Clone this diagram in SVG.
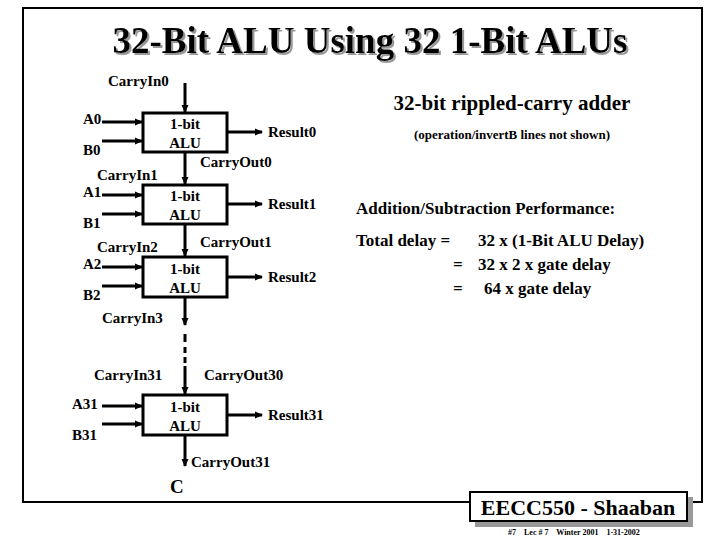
<svg xmlns="http://www.w3.org/2000/svg" width="720" height="540" viewBox="0 0 720 540">
<defs>
<marker id="ah" markerWidth="8" markerHeight="8" refX="7" refY="4" orient="auto" markerUnits="userSpaceOnUse"><path d="M0,0.5 L8,4 L0,7.5 Z" fill="#000"/></marker>
<filter id="sh" x="-5%" y="-20%" width="110%" height="150%"><feDropShadow dx="2" dy="2" stdDeviation="0" flood-color="#999"/></filter>
<style>
.t{font-family:"Liberation Serif","DejaVu Serif",serif;font-weight:bold}
.l{font-size:15px}
.box{fill:#fff;stroke:#000;stroke-width:3}
.w{stroke:#000;stroke-width:3;fill:none;marker-end:url(#ah)}
.b{font-size:17px}
</style>
</defs>
<rect width="720" height="540" fill="#fff"/>
<path d="M470,502 H23 V8 H702 V502 H688" fill="none" stroke="#000" stroke-width="2"/>
<g class="t" fill="#000">
<text x="370" y="53" font-size="37" text-anchor="middle" filter="url(#sh)">32-Bit ALU Using 32 1-Bit ALUs</text>
<g id="connectors">
<path class="w" d="M185,83 V112"/>
<path class="w" d="M185,152 V184"/>
<path class="w" d="M185,224 V256"/>
<path class="w" d="M185,297 V325"/>
<path class="w" d="M185,366 V394"/>
<path class="w" d="M185,435 V466"/>
<path d="M185,334 V342 M185,347 V353 M185,357 V363" stroke="#000" stroke-width="3"/>
<path class="w" d="M102,122 H142"/><path class="w" d="M102,141 H142"/>
<path class="w" d="M102,195 H142"/><path class="w" d="M102,214 H142"/>
<path class="w" d="M102,267 H142"/><path class="w" d="M102,286 H142"/>
<path class="w" d="M102,406 H142"/><path class="w" d="M102,424 H142"/>
<path class="w" d="M227,132 H262"/><path class="w" d="M227,204 H262"/>
<path class="w" d="M227,277 H262"/><path class="w" d="M227,415 H262"/>
</g>
<g id="alu0"><rect class="box" x="143" y="113" width="84" height="39"/><text class="l" x="185" y="129" text-anchor="middle">1-bit</text><text class="l" x="185" y="148" text-anchor="middle">ALU</text></g>
<g id="alu1"><rect class="box" x="143" y="185" width="84" height="39"/><text class="l" x="185" y="201" text-anchor="middle">1-bit</text><text class="l" x="185" y="220" text-anchor="middle">ALU</text></g>
<g id="alu2"><rect class="box" x="143" y="257" width="84" height="40"/><text class="l" x="185" y="274" text-anchor="middle">1-bit</text><text class="l" x="185" y="293" text-anchor="middle">ALU</text></g>
<g id="alu31"><rect class="box" x="143" y="395" width="84" height="40"/><text class="l" x="185" y="412" text-anchor="middle">1-bit</text><text class="l" x="185" y="431" text-anchor="middle">ALU</text></g>
<g id="labels">
<text class="l" x="108" y="86">CarryIn0</text>
<text class="l" x="83" y="124">A0</text><text class="l" x="83" y="155">B0</text>
<text class="l" x="268" y="137">Result0</text>
<text class="l" x="200" y="167">CarryOut0</text>
<text class="l" x="97" y="180">CarryIn1</text>
<text class="l" x="83" y="197">A1</text><text class="l" x="83" y="228">B1</text>
<text class="l" x="268" y="209">Result1</text>
<text class="l" x="200" y="247">CarryOut1</text>
<text class="l" x="97" y="252">CarryIn2</text>
<text class="l" x="83" y="269">A2</text><text class="l" x="83" y="300">B2</text>
<text class="l" x="268" y="282">Result2</text>
<text class="l" x="102" y="323">CarryIn3</text>
<text class="l" x="94" y="380">CarryIn31</text>
<text class="l" x="204" y="380">CarryOut30</text>
<text class="l" x="72" y="409">A31</text><text class="l" x="72" y="440">B31</text>
<text class="l" x="268" y="420">Result31</text>
<text class="l" x="191" y="467">CarryOut31</text>
<text x="170" y="493" font-size="19">C</text>
<text x="512" y="110" font-size="21" text-anchor="middle">32-bit rippled-carry adder</text>
<text x="512" y="139" font-size="13" text-anchor="middle">(operation/invertB lines not shown)</text>
<text class="b" x="356" y="214">Addition/Subtraction Performance:</text>
<text class="b" x="356" y="246">Total delay =</text>
<text class="b" x="478" y="246">32 x (1-Bit ALU Delay)</text>
<text class="b" x="453" y="270">=</text><text class="b" x="478" y="270">32 x 2 x gate delay</text>
<text class="b" x="453" y="294">=</text><text class="b" x="484" y="294">64 x gate delay</text>
</g>
<g id="footer">
<rect x="475" y="497" width="218" height="30" fill="#999"/>
<rect x="470" y="492" width="217" height="29" fill="#fff" stroke="#000" stroke-width="2"/>
<text x="578" y="515" font-size="22" text-anchor="middle">EECC550 - Shaaban</text>
<text x="508" y="535" font-size="8" xml:space="preserve">#7    Lec # 7    Winter 2001    1-31-2002</text>
</g>
</g>
</svg>
